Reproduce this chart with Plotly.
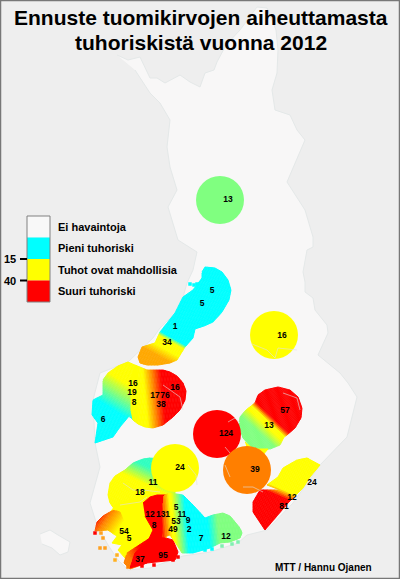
import plotly.graph_objects as go

# Kuvan otsikko ja tekstit
otsikko_1 = 'Ennuste tuomikirvojen aiheuttamasta'
otsikko_2 = 'tuhoriskistä vuonna 2012'
tekija = 'MTT / Hannu Ojanen'
selite_tekstit = ['Ei havaintoja', 'Pieni tuhoriski', 'Tuhot ovat mahdollisia', 'Suuri tuhoriski']
selite_varit = ['#f8f8f8', '#00ffff', '#ffff00', '#ff0000']
selite_rajat = [216, 237.5, 259, 280.5, 302]
raja_arvot = ['15', '40']

# Värit
SININEN = '#00ffff'
VIHREA = '#80ff80'
KELTAINEN = '#ffff00'
ORANSSI = '#ff8000'
PUNAINEN = '#ff0000'
TAUSTA = '#eeeeee'
MAA = '#f8f7f7'

# Suomen ääriviiva (kuvapisteinä)
maa_x = [117, 128, 140, 143, 150, 157, 165, 180, 190, 200, 205, 214, 217, 226, 240, 257, 267, 276, 278, 277, 272,
         275, 290, 297, 305, 287, 305, 313, 313, 307, 303, 305, 305, 313, 315, 327, 328, 318, 340, 348, 357, 347,
         320, 293, 267, 247, 238, 210, 183, 150, 128, 118, 108, 97, 90, 100, 95, 93, 100, 128, 137, 153, 160, 175,
         183, 187, 193, 197, 178, 168, 177, 170, 167, 170, 160, 150, 135]
maa_y = [55, 60, 57, 63, 78, 78, 83, 75, 82, 87, 73, 70, 62, 45, 30, 7, 8, 30, 50, 73, 90,
         110, 115, 130, 140, 182, 210, 237, 247, 250, 272, 282, 292, 298, 310, 325, 333, 355, 373, 383, 397, 437,
         465, 503, 530, 535, 543, 552, 556, 568, 570, 560, 545, 525, 503, 467, 443, 400, 373, 362, 353, 338, 328, 313,
         297, 283, 270, 252, 240, 207, 190, 167, 147, 120, 103, 93, 70]

# Ahvenanmaa
ahvenanmaa_x = [40, 50, 58, 70, 68, 60, 52, 42]
ahvenanmaa_y = [534, 530, 535, 542, 552, 555, 548, 544]

# Liukuväriset alueet: ääriviiva, väriakseli ja värit akselin varrella
alue_x = {
    'pohjanmaa_n': [202, 205, 215, 222, 228, 231, 229, 222, 213, 204, 195, 193, 185, 177, 170, 158, 147, 140, 138, 142,
                    155, 160, 175, 183, 193, 202],
    'vaasa_l': [103, 108, 118, 128, 137, 137, 133, 130, 120, 113, 95, 98, 92, 93, 103],
    'vaasa_o': [135, 147, 155, 163, 170, 177, 183, 186, 185, 180, 173, 163, 153, 145, 138, 133, 131, 131],
    'kuopio': [258, 265, 278, 290, 298, 302, 301, 295, 287, 284, 280, 270, 260, 250, 243, 239, 240, 246, 255],
    'kaakko': [260, 275, 280, 267, 278, 283, 297, 307, 320, 310, 303, 288, 265, 253, 253],
    'pirkanmaa': [108, 110, 115, 125, 133, 143, 150, 175, 175, 150, 143, 115, 110],
    'rannikko': [95, 97, 103, 108, 114, 120, 128, 124, 118, 108],
    'salo': [127, 150, 152, 147, 130, 124],
    'itauusimaa': [163, 165, 170, 183, 193, 205, 213, 223, 230, 235, 240, 242, 240, 230, 220, 210, 193, 182, 177, 170, 163],
}
alue_y = {
    'pohjanmaa_n': [272, 267, 268, 272, 280, 290, 300, 312, 322, 326, 329, 338, 347, 360, 363, 365, 365, 363, 357, 347,
                    343, 332, 313, 297, 290, 278],
    'vaasa_l': [380, 373, 366, 362, 366, 422, 420, 415, 427, 437, 443, 423, 415, 400, 395],
    'vaasa_o': [365, 370, 370, 370, 372, 376, 383, 391, 400, 410, 417, 425, 428, 427, 424, 420, 410, 380],
    'kuopio': [395, 390, 387, 390, 397, 408, 418, 428, 435, 437, 445, 449, 449, 446, 438, 426, 417, 410, 403],
    'kaakko': [490, 490, 490, 485, 477, 468, 460, 458, 465, 477, 488, 503, 530, 512, 502],
    'pirkanmaa': [495, 483, 476, 470, 463, 459, 458, 460, 500, 498, 505, 510, 503],
    'rannikko': [531, 522, 516, 513, 510, 512, 532, 540, 537, 530],
    'salo': [553, 538, 550, 563, 569, 563],
    'itauusimaa': [497, 495, 493, 495, 505, 518, 515, 513, 516, 522, 528, 533, 538, 542, 543, 548, 553, 553, 545, 535, 537],
}
alue_akseli = {
    'pohjanmaa_n': [(176, 347), (166, 365)],
    'vaasa_l': [(110, 407), (125, 383)],
    'vaasa_o': [(145, 395), (166, 393)],
    'kuopio': [(257, 430), (273, 413)],
    'kaakko': [(274, 494), (277, 487)],
    'pirkanmaa': [(143, 483), (150, 468)],
    'rannikko': [(100, 513), (120, 527)],
    'salo': [(127, 552), (140, 548)],
    'itauusimaa': [(160, 510), (216, 505)],
}
alue_varit = {
    'pohjanmaa_n': [(-0.3, SININEN), (-0.1, KELTAINEN), (0.35, KELTAINEN), (0.8, '#ffa800')],
    'vaasa_l': [(0, SININEN), (1, KELTAINEN)],
    'vaasa_o': [(0, KELTAINEN), (0.45, ORANSSI), (0.85, PUNAINEN)],
    'kuopio': [(0, VIHREA), (0.42, KELTAINEN), (0.62, KELTAINEN), (0.85, PUNAINEN)],
    'kaakko': [(0, PUNAINEN), (1, KELTAINEN)],
    'pirkanmaa': [(0, KELTAINEN), (1, '#30ffc0')],
    'rannikko': [(0, PUNAINEN), (0.35, ORANSSI), (1, KELTAINEN)],
    'salo': [(0, ORANSSI), (1, PUNAINEN)],
    'itauusimaa': [(0, PUNAINEN), (0.08, ORANSSI), (0.18, KELTAINEN), (0.22, KELTAINEN), (0.45, SININEN), (0.82, SININEN), (1, VIHREA)],
}

# Yksiväriset alueet
keskus_x = [143, 150, 157, 168, 166, 163, 162, 173, 178, 175, 147, 130, 135, 148, 153, 148, 145]
keskus_y = [503, 497, 495, 495, 515, 527, 537, 540, 552, 560, 563, 568, 553, 541, 530, 522, 516]
rannikko_kelt_x = [115, 143, 160, 175, 165, 135, 125, 118, 122, 112, 118, 108, 110]
rannikko_kelt_y = [505, 495, 497, 520, 540, 553, 558, 550, 545, 543, 535, 530, 512]
silta_x = [232, 242, 250, 240, 228]
silta_y = [452, 449, 452, 465, 462]
silta_kelt_x = [245, 253, 268, 262, 248]
silta_kelt_y = [442, 449, 449, 456, 452]

# Pyöreät alueet
ympyra_x = [220, 274, 217, 247, 175]
ympyra_y = [200, 335, 434, 470, 468]
ympyra_koko = [48, 48, 48, 48, 48]
ympyra_vari = [VIHREA, KELTAINEN, PUNAINEN, '#ff7f00', KELTAINEN]

# Saaret
saari_x = [101, 103, 105, 100, 95, 115, 117, 130, 142, 154, 173, 178, 128, 222, 232, 238, 205, 212, 190, 194, 197]
saari_y = [533, 538, 548, 548, 533, 560, 555, 560, 566, 565, 560, 557, 567, 546, 544, 542, 550, 549, 284, 285, 284]
saari_vari = ['#ffa020', '#ffa020', '#ffa020', '#ffa020', PUNAINEN, '#ffb020', '#ffb020', ORANSSI, PUNAINEN, PUNAINEN,
              PUNAINEN, PUNAINEN, ORANSSI, '#80f0b0', '#80f0b0', '#80f0b0', SININEN, SININEN, SININEN, SININEN, SININEN]

# Maakuntarajat
raja_x = [163, 180, 183, None, 123, 133, 143, 160, None, 120, 140, 147, None, 228, 235, 240, None, 225, 230, None,
          225, 230, None, 243, 253, 263, None, 252, 267, 275, 278, 297, None, 283, 297, 300, None, 188, 196, 197]
raja_y = [385, 397, 410, None, 483, 490, 490, 492, None, 505, 502, 497, None, 422, 418, 423, None, 447, 453, None,
          465, 477, None, 487, 487, 492, None, 344, 350, 358, 348, 350, None, 393, 398, 410, None, 465, 475, 485]

# Havaintomäärät kartalla
luku_tekstit = ['13', '5', '5', '1', '34', '16', '16', '19', '8', '17', '76', '16', '38', '6', '124', '57', '13', '39',
                '24', '12', '81', '24', '11', '18', '12', '131', '5', '11', '53', '9', '8', '49', '2', '54', '5', '37',
                '95', '7', '12']
luku_x = [228, 212, 202, 175, 167, 282, 133, 132, 134, 155, 165, 175, 161, 103, 226, 285, 269, 255,
          312, 292, 284, 180, 153, 140, 150, 163, 176, 182, 176, 188, 154, 173, 189, 124, 129, 140,
          163, 201, 226]
luku_y = [200, 291, 304, 327, 343, 336, 384, 393, 403, 396, 396, 388, 405, 420, 434, 411, 426, 470,
          483, 498, 507, 468, 483, 493, 515, 515, 508, 515, 522, 521, 526, 530, 530, 532, 539, 560,
          556, 539, 537]


def leikkaa(piste_x, piste_y, akseli, alku, loppu):
    # Sutherland-Hodgman: monikulmion osa akselin kohtien alku..loppu välissä
    (x0, y0), (x1, y1) = akseli
    dx, dy = x1 - x0, y1 - y0
    pit = dx * dx + dy * dy
    pisteet = list(zip(piste_x, piste_y))
    for raja, merkki in ((alku, 1), (loppu, -1)):
        uusi = []
        for i in range(len(pisteet)):
            a = pisteet[i]
            b = pisteet[(i + 1) % len(pisteet)]
            ta = ((a[0] - x0) * dx + (a[1] - y0) * dy) / pit
            tb = ((b[0] - x0) * dx + (b[1] - y0) * dy) / pit
            sa = (ta - raja) * merkki >= 0
            sb = (tb - raja) * merkki >= 0
            if sa:
                uusi.append(a)
            if sa != sb:
                s = (raja - ta) / (tb - ta)
                uusi.append((a[0] + s * (b[0] - a[0]), a[1] + s * (b[1] - a[1])))
        pisteet = uusi
        if not pisteet:
            return [], []
    return [p[0] for p in pisteet], [p[1] for p in pisteet]


def rgb(vari):
    return [int(vari[i:i + 2], 16) for i in (1, 3, 5)]


def vari_kohdassa(varit, t):
    if t <= varit[0][0]:
        return varit[0][1]
    for (t0, c0), (t1, c1) in zip(varit, varit[1:]):
        if t <= t1:
            s = (t - t0) / (t1 - t0)
            a, b = rgb(c0), rgb(c1)
            return 'rgb(%d,%d,%d)' % tuple(a[i] + s * (b[i] - a[i]) for i in range(3))
    return varit[-1][1]


def monikulmio(x, y, vari, reuna=0.0):
    fig.add_trace(go.Scatter(x=x, y=y, mode='lines', fill='toself', fillcolor=vari,
                             line=dict(color=vari, width=reuna), hoverinfo='skip', showlegend=False))


def liukuvari(nimi):
    x, y = alue_x[nimi], alue_y[nimi]
    akseli = alue_akseli[nimi]
    varit = alue_varit[nimi]
    (x0, y0), (x1, y1) = akseli
    pit = ((x1 - x0) ** 2 + (y1 - y0) ** 2) ** 0.5
    askel = 1.5 / pit
    # alueen kaikki pisteet akselille
    tt = [((a - x0) * (x1 - x0) + (b - y0) * (y1 - y0)) / pit ** 2 for a, b in zip(x, y)]
    t = min(tt)
    while t < max(tt):
        bx, by = leikkaa(x, y, akseli, t, t + askel)
        if bx:
            monikulmio(bx, by, vari_kohdassa(varit, t + askel / 2), 1)
        t += askel


fig = go.Figure()

# Maa
monikulmio(maa_x, maa_y, MAA)
fig.data[-1].line = dict(color='#e4e8e8', width=1)
monikulmio(ahvenanmaa_x, ahvenanmaa_y, MAA)
fig.data[-1].line = dict(color='#e4e8e8', width=1)

# Tuhoriskialueet
monikulmio(rannikko_kelt_x, rannikko_kelt_y, KELTAINEN, 1)
for nimi in ['rannikko', 'pirkanmaa', 'salo']:
    liukuvari(nimi)
monikulmio(keskus_x, keskus_y, PUNAINEN, 1)
for nimi in ['itauusimaa', 'pohjanmaa_n', 'vaasa_l', 'vaasa_o', 'kuopio', 'kaakko']:
    liukuvari(nimi)
monikulmio(silta_x, silta_y, PUNAINEN, 1)
monikulmio(silta_kelt_x, silta_kelt_y, KELTAINEN, 1)

for x, y, koko, vari in zip(ympyra_x, ympyra_y, ympyra_koko, ympyra_vari):
    fig.add_trace(go.Scatter(x=[x], y=[y], mode='markers', hoverinfo='skip', showlegend=False,
                             marker=dict(size=koko, color=vari, line=dict(width=0))))

fig.add_trace(go.Scatter(x=saari_x, y=saari_y, mode='markers', hoverinfo='skip', showlegend=False,
                         marker=dict(size=3.5, color=saari_vari, symbol='square', line=dict(width=0))))

fig.add_trace(go.Scatter(x=raja_x, y=raja_y, mode='lines', hoverinfo='skip', showlegend=False,
                         line=dict(color='rgba(225,225,225,0.75)', width=0.8)))

fig.add_trace(go.Scatter(x=luku_x, y=luku_y, mode='text', text=['<b>%s</b>' % t for t in luku_tekstit],
                         hoverinfo='skip', showlegend=False,
                         textfont=dict(family='Liberation Sans', size=8.5, color='#000000')))

# Selite
shapes = []
for i, vari in enumerate(selite_varit):
    shapes.append(dict(type='rect', x0=27, x1=50, y0=selite_rajat[i], y1=selite_rajat[i + 1],
                       fillcolor=vari, line=dict(width=0)))
shapes.append(dict(type='rect', x0=27, x1=50, y0=selite_rajat[0], y1=selite_rajat[-1],
                   line=dict(color='#808080', width=1)))
for k in (2, 3):
    shapes.append(dict(type='line', x0=20, x1=27, y0=selite_rajat[k], y1=selite_rajat[k],
                       line=dict(color='#000000', width=2)))
shapes.append(dict(type='rect', x0=0.5, x1=399.5, y0=0.5, y1=578.5, line=dict(color='#777777', width=1.5)))

annotations = []
for i, teksti in enumerate(selite_tekstit):
    annotations.append(dict(x=56, y=(selite_rajat[i] + selite_rajat[i + 1]) / 2, text='<b>%s</b>' % teksti,
                            xanchor='left', yanchor='middle', showarrow=False,
                            font=dict(family='Liberation Sans', size=11, color='#000000')))
for k, teksti in zip((2, 3), raja_arvot):
    annotations.append(dict(x=18, y=selite_rajat[k], text='<b>%s</b>' % teksti, xanchor='right', yanchor='middle',
                            showarrow=False, font=dict(family='Liberation Sans', size=11, color='#000000')))
for rivi_y, teksti in zip((17, 42), (otsikko_1, otsikko_2)):
    annotations.append(dict(x=201, y=rivi_y, text='<b>%s</b>' % teksti, xanchor='center', yanchor='middle',
                            showarrow=False, font=dict(family='Liberation Sans', size=21, color='#000000')))
annotations.append(dict(x=273, y=567, text='<b>%s</b>' % tekija, xanchor='left', yanchor='middle', showarrow=False,
                        font=dict(family='Liberation Sans', size=10, color='#000000')))

fig.update_layout(
    width=400, height=579,
    margin=dict(l=0, r=0, t=0, b=0),
    plot_bgcolor=TAUSTA, paper_bgcolor=TAUSTA,
    showlegend=False,
    shapes=shapes, annotations=annotations,
    xaxis=dict(range=[0, 400], visible=False, fixedrange=True),
    yaxis=dict(range=[579, 0], visible=False, fixedrange=True),
)

fig.write_html("out.html", post_script="document.body.style.margin='0';", config=dict(displayModeBar=False))
